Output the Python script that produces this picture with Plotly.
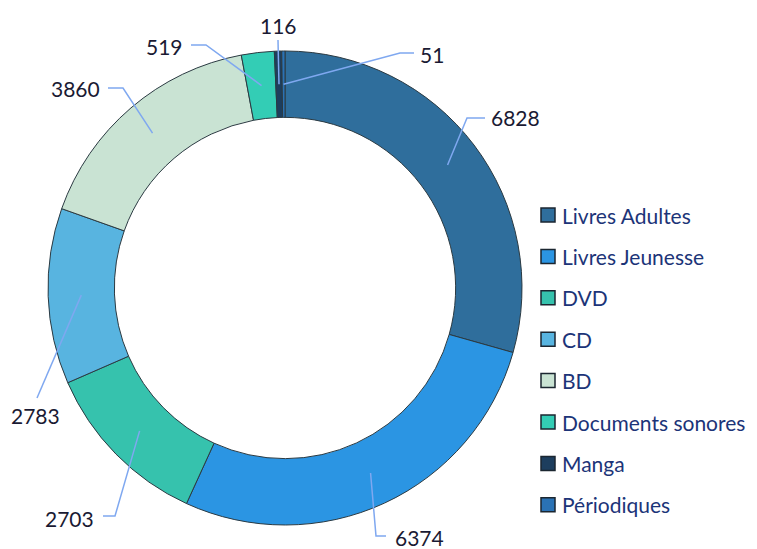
import math
import plotly.graph_objects as go

# data
categories = ["Livres Adultes", "Livres Jeunesse", "DVD", "CD", "BD",
              "Documents sonores", "Manga", "Périodiques"]
values = [6828, 6374, 2703, 2783, 3860, 519, 116, 51]
colors = ["#2f6e9c", "#2b95e3", "#36c2ad", "#58b4e0", "#c9e3d3",
          "#33cdb5", "#1d3e5e", "#2a72b5"]

W, H = 757, 549
OFF = 8  # page body margin
CX, CY, R = 285, 288, 237  # donut centre / outer radius in px
HOLE = 0.72

# label placement (px): elbow point, end of leader, text x, text y, anchor
label_layout = [
    ((467, 118), (485, 118), 489, 117, "left"),
    ((376, 536), (386, 536), 393, 537, "left"),
    ((115, 516), (103, 516), 96, 518, "right"),
    ((37, 398), (37, 398), 35, 415, "center"),
    ((123, 88), (108, 88), 102, 89, "right"),
    ((206, 45), (191, 45), 185, 47, "right"),
    ((278, 40), (278, 40), 278, 25, "center"),
    ((400, 53), (414, 53), 418, 55, "left"),
]


def px(x):
    return (x - OFF) / W


def py(y):
    return 1 - (y - OFF) / H


fig = go.Figure(go.Pie(
    labels=categories, values=values, sort=False, direction="clockwise",
    rotation=0, hole=HOLE, textinfo="none", showlegend=False,
    marker=dict(colors=colors, line=dict(color="#2b3a42", width=1)),
    domain=dict(x=[px(CX - R), px(CX + R)], y=[py(CY + R), py(CY - R)]),
))

total = sum(values)
cum = 0
shapes = []
annotations = []
for v, lay in zip(values, label_layout):
    mid = (cum + v / 2) / total * 2 * math.pi
    cum += v
    r_a = R * (1 + HOLE) / 2
    ax = CX + r_a * math.sin(mid)
    ay = CY - r_a * math.cos(mid)
    (ex, ey), (fx, fy), tx, ty, anc = lay
    shapes.append(dict(
        type="path", xref="paper", yref="paper",
        path=f"M {px(ax)},{py(ay)} L {px(ex)},{py(ey)} L {px(fx)},{py(fy)}",
        line=dict(color="#7fa8f0", width=1.5)))
    annotations.append(dict(
        x=px(tx), y=py(ty), xref="paper", yref="paper", text=str(v),
        showarrow=False, xanchor=anc, yanchor="middle",
        font=dict(family="Lato", size=21, color="#1a1a33")))

# custom legend
leg_y0, leg_step = 215, 41.4
for i, (cat, col) in enumerate(zip(categories, colors)):
    yy = leg_y0 + i * leg_step
    shapes.append(dict(
        type="rect", xref="paper", yref="paper",
        x0=px(541), x1=px(555), y0=py(yy + 7), y1=py(yy - 7),
        fillcolor=col, line=dict(color="#1b2630", width=1.5)))
    annotations.append(dict(
        x=px(560), y=py(yy), xref="paper", yref="paper", text=cat,
        showarrow=False, xanchor="left", yanchor="middle",
        font=dict(family="Lato", size=21, color="#1c3478")))

fig.update_layout(
    width=W, height=H, margin=dict(l=0, r=0, t=0, b=0),
    paper_bgcolor="white", plot_bgcolor="white",
    shapes=shapes, annotations=annotations,
)

fig.write_html("out.html")
